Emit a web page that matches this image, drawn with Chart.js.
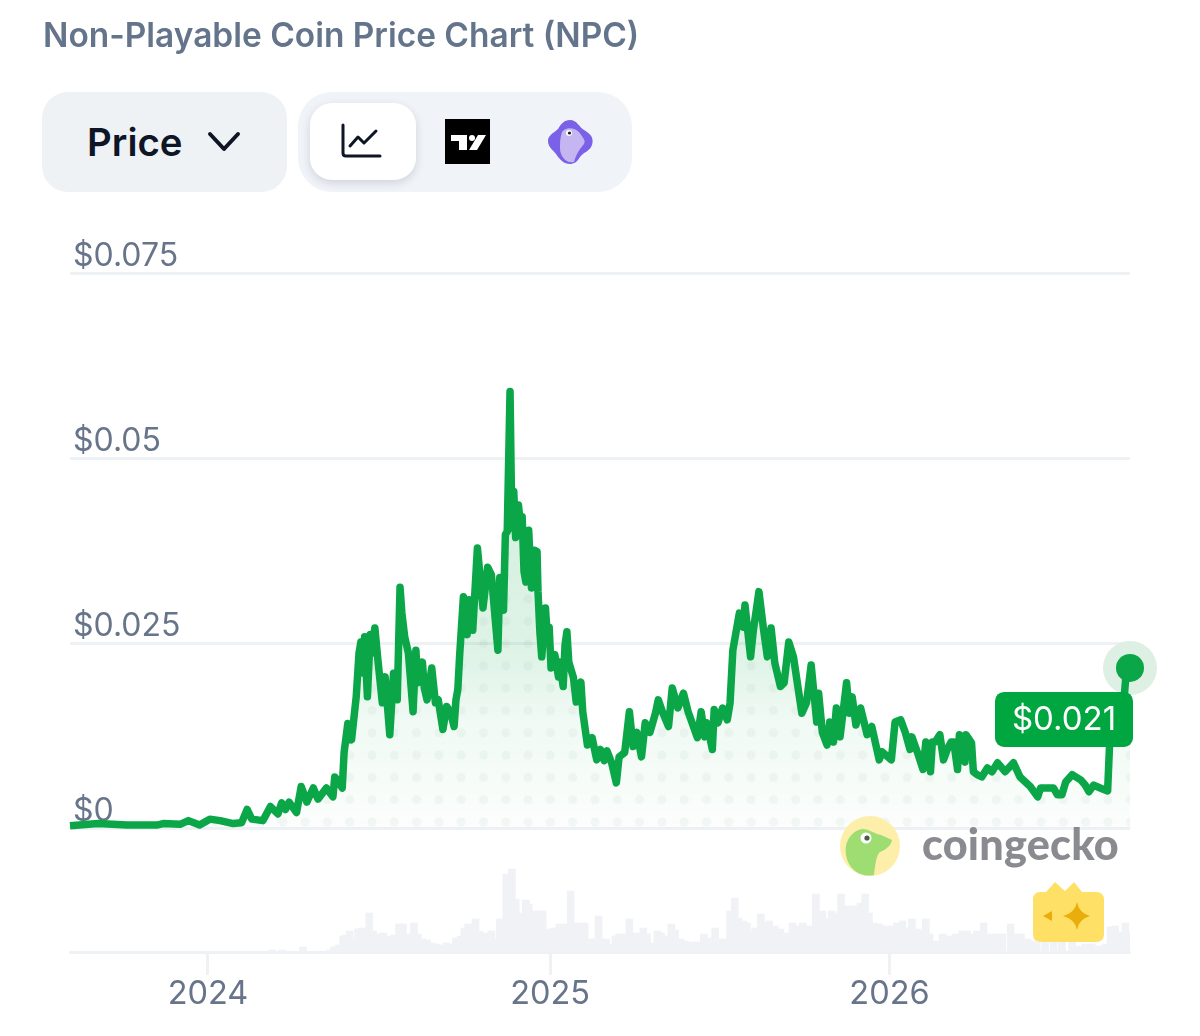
<!DOCTYPE html>
<html>
<head>
<meta charset="utf-8">
<title>Non-Playable Coin Price Chart (NPC)</title>
<script src="https://cdn.jsdelivr.net/npm/chart.js@4/dist/chart.umd.min.js"></script>
<style>
  html, body { margin: 0; padding: 0; background: #fff; }
  body { width: 1200px; height: 1036px; position: relative; overflow: hidden; font-family: Inter, sans-serif; }
  #myChart { position: absolute; left: 0; top: 0; }
  .abs { position: absolute; }
  #title { left: 43px; top: 14px; font-size: 33.45px; line-height: 42px; font-weight: 600; color: #64748b; white-space: nowrap; }
  #priceBtn { left: 42px; top: 92px; width: 245px; height: 100px; border-radius: 26px; background: #eff2f5; }
  #priceTxt { left: 87px; top: 118px; font-size: 38.4px; line-height: 48px; font-weight: 600; color: #0d1526; }
  #tabs { left: 298px; top: 92px; width: 334px; height: 100px; border-radius: 34px; background: #f0f3f8; }
  #tabOn { left: 310px; top: 103px; width: 106px; height: 77px; border-radius: 22px; background: #fff; box-shadow: 0 3px 9px rgba(40,50,70,.16); }
  #brand { left: 922px; top: 818px; font-family: Lato, sans-serif; font-size: 43.2px; line-height: 50px; font-weight: 900; color: #8a8b90; letter-spacing: .2px; }
</style>
</head>
<body>
<canvas id="myChart" width="1200" height="1036"></canvas>

<div id="title" class="abs">Non-Playable Coin Price Chart (NPC)</div>
<div id="priceBtn" class="abs"></div>
<div id="priceTxt" class="abs">Price</div>
<svg class="abs" style="left:206px;top:130px" width="36" height="24" viewBox="0 0 36 24"><path d="M4 4 L18 19 L32 4" fill="none" stroke="#0d1526" stroke-width="4" stroke-linecap="round" stroke-linejoin="round"/></svg>
<div id="tabs" class="abs"></div>
<div id="tabOn" class="abs"></div>
<svg class="abs" style="left:340px;top:122px" width="44" height="38" viewBox="0 0 44 38"><path d="M3 3 V31 Q3 34 6 34 H40" fill="none" stroke="#0d1526" stroke-width="3" stroke-linecap="round"/><path d="M10 24 L18 15 L24 21 L36 9" fill="none" stroke="#0d1526" stroke-width="3" stroke-linecap="round" stroke-linejoin="round"/></svg>
<svg class="abs" style="left:445px;top:119px" width="45" height="45" viewBox="0 0 45 45"><rect width="45" height="45" fill="#000"/><path d="M6 16 H22 V31 H14 V22 H6 Z" fill="#fff"/><circle cx="27" cy="19" r="3" fill="#fff"/><path d="M33 16 H41 L32 31 H24 Z" fill="#fff"/></svg>
<svg class="abs" style="left:546px;top:118px" width="48" height="48" viewBox="0 0 48 48"><path d="M24 2 C31 2 33 9 38 12 C45 16 48 20 46 27 C44 33 38 34 34 39 C31 44 28 46 24 46 C18 46 14 42 10 36 C7 32 2 29 2 23 C2 17 8 15 12 11 C15 6 18 2 24 2 Z" fill="#7b61e8"/><path d="M16 14 C20 8 29 10 33 14 C37 20 40 22 38 26 C34 31 31 34 28 44 C20 46 14 38 14 30 C14 24 14 20 16 14 Z" fill="#c5b6f2"/><circle cx="23" cy="15" r="3" fill="#fff"/><circle cx="23.5" cy="15" r="1.6" fill="#1b1b2f"/></svg>

<svg class="abs" style="left:839px;top:815px" width="62" height="62" viewBox="0 0 62 62"><circle cx="31" cy="31" r="30" fill="#fdeeaa"/><path d="M12 52 C6 44 5 32 9 25 C12 19 18 14 24 14 C30 14 36 19 42 20 L53 25 C52 31 46 35 41 37 C37 40 36 52 35 60 C26 62 18 59 12 52 Z" fill="#9edd72"/><circle cx="27" cy="23" r="5.5" fill="#fff"/><circle cx="28" cy="23" r="2.6" fill="#4d5a4a"/></svg>
<div id="brand" class="abs">coingecko</div>
<svg class="abs" style="left:1032px;top:882px" width="73" height="62" viewBox="0 0 73 62"><path d="M8 10 H14 L23 0 L33 9 L42 0 L50 10 H64 Q72 10 72 18 V52 Q72 60 64 60 H9 Q1 60 1 52 V18 Q1 10 8 10 Z" fill="#ffe066"/><path d="M45 20 Q47 31 58 34 Q47 37 45 48 Q43 37 31 34 Q43 31 45 20 Z" fill="#e9ad0c"/><path d="M11 34 L20 29 V39 Z" fill="#e9ad0c"/></svg>

<script>
const tickDays = [0, 367, 731];
const tickLabels = ["2024", "2025", "2026"];
const priceTicks = [0, 0.025, 0.05, 0.075];
const priceTickLabels = ["$0", "$0.025", "$0.05", "$0.075"];
const lastPriceLabel = "$0.021";

const priceDays = [
  -148, -118, -87, -55, -48, -30, -21, -9, 2, 13, 27, 36, 42, 47, 59, 67, 75, 79, 83, 87,
  95, 100, 106, 113, 118, 127, 134, 136, 144, 146, 150, 154, 159, 162, 164, 167, 168, 171, 174, 176,
  179, 182, 187, 190, 195, 199, 203, 206, 208, 211, 215, 220, 223, 225, 230, 232, 235, 240, 244, 247,
  252, 256, 260, 264, 266, 268, 270, 274, 278, 280, 284, 289, 295, 300, 304, 311, 313, 317, 319, 321,
  324, 326, 328, 330, 333, 336, 337, 339, 341, 344, 347, 350, 353, 354, 356, 358, 362, 364, 366, 368,
  372, 376, 377, 381, 383, 385, 387, 392, 395, 400, 402, 407, 412, 417, 421, 425, 428, 433, 438, 441,
  447, 452, 456, 460, 465, 469, 474, 480, 483, 488, 494, 498, 504, 510, 515, 525, 529, 533, 535, 541,
  543, 547, 552, 557, 560, 563, 570, 574, 576, 582, 585, 591, 596, 600, 604, 608, 614, 618, 623, 628,
  637, 642, 647, 653, 655, 659, 664, 667, 671, 674, 678, 685, 688, 691, 695, 700, 707, 712, 720, 723,
  733, 737, 743, 748, 753, 755, 761, 767, 770, 775, 777, 780, 785, 789, 793, 797, 800, 804, 806, 812,
  813, 819, 821, 825, 830, 836, 841, 847, 855, 864, 871, 882, 890, 893, 900, 907, 911, 916, 920, 927,
  936, 941, 945, 950, 957, 965, 967, 970, 983, 985, 989
];
const priceValues = [
  .0004, .0007, .0005, .0005, .0007, .0006, .0011, .0005, .0013, .0011, .0007, .0008, .0026, .0013, .0011, .0030, .0020, .0035, .0026, .0036,
  .0022, .0057, .0036, .0055, .0040, .0055, .0043, .0070, .0055, .0103, .0142, .0120, .0178, .0237, .0252, .0210, .0259, .0178, .0262, .0237,
  .0271, .0231, .0170, .0205, .0127, .0210, .0174, .0326, .0291, .0259, .0237, .0158, .0241, .0197, .0225, .0190, .0174, .0217, .0170, .0174,
  .0134, .0165, .0158, .0138, .0174, .0188, .0235, .0313, .0262, .0309, .0268, .0379, .0298, .0353, .0343, .0241, .0339, .0295, .0397, .0401,
  .0590, .0406, .0455, .0393, .0437, .0401, .0421, .0347, .0333, .0403, .0325, .0376, .0374, .0320, .0266, .0232, .0298, .0258, .0272, .0217,
  .0235, .0205, .0225, .0192, .0248, .0266, .0225, .0204, .0171, .0198, .0158, .0113, .0123, .0093, .0107, .0092, .0105, .0089, .0062, .0097,
  .0103, .0158, .0111, .0130, .0097, .0143, .0130, .0156, .0174, .0156, .0138, .0190, .0163, .0183, .0158, .0123, .0158, .0124, .0143, .0107,
  .0161, .0143, .0163, .0147, .0170, .0241, .0291, .0272, .0302, .0232, .0268, .0320, .0268, .0232, .0271, .0224, .0192, .0197, .0252, .0232,
  .0156, .0170, .0221, .0144, .0183, .0130, .0113, .0144, .0117, .0163, .0124, .0197, .0156, .0178, .0140, .0163, .0127, .0138, .0093, .0104,
  .0093, .0144, .0147, .0130, .0107, .0124, .0103, .0080, .0117, .0077, .0117, .0117, .0127, .0093, .0107, .0117, .0117, .0080, .0127, .0090,
  .0127, .0116, .0077, .0073, .0070, .0082, .0077, .0089, .0077, .0089, .0070, .0057, .0043, .0055, .0055, .0055, .0046, .0046, .0063, .0073,
  .0066, .0059, .0050, .0059, .0055, .0051, .0111, .0154, .0181, .0212, .0217
];

const volumeDays = [
  69, 80, 102, 131, 135, 140, 145, 148, 152, 157, 161, 165, 170, 173, 177, 181, 185, 188, 192, 196,
  200, 205, 209, 213, 217, 221, 225, 230, 235, 240, 245, 251, 256, 262, 266, 271, 275, 279, 283, 287,
  291, 296, 300, 304, 309, 313, 318, 320, 323, 326, 330, 333, 337, 341, 344, 348, 352, 356, 359, 364,
  368, 372, 377, 381, 385, 389, 392, 396, 400, 404, 409, 414, 419, 423, 427, 432, 437, 441, 446, 452,
  456, 460, 464, 467, 471, 476, 482, 486, 490, 497, 501, 507, 512, 519, 526, 532, 539, 544, 549, 555,
  560, 565, 569, 574, 578, 583, 587, 593, 597, 602, 608, 614, 621, 627, 632, 638, 644, 652, 655, 659,
  664, 669, 675, 679, 684, 688, 694, 700, 705, 709, 714, 720, 725, 732, 739, 745, 750, 755, 761, 766,
  770, 774, 780, 788, 795, 802, 809, 814, 820, 825, 832, 838, 845, 852, 861, 866, 872, 879, 884, 889,
  898, 907, 916, 927, 934, 941, 948, 956, 963, 968, 973, 979, 984, 989
];
const volumeValues = [
  2, 2, 5, 2, 5, 7, 16, 17, 21, 13, 23, 24, 14, 39, 21, 18, 13, 19, 14, 16,
  17, 28, 28, 11, 18, 29, 18, 13, 12, 9, 8, 7, 9, 8, 14, 16, 24, 28, 14, 33,
  21, 19, 17, 21, 13, 33, 16, 78, 61, 83, 53, 39, 18, 52, 48, 41, 28, 41, 41, 21,
  23, 24, 28, 13, 28, 61, 13, 29, 21, 29, 13, 13, 36, 13, 13, 8, 16, 18, 18, 33,
  18, 19, 18, 24, 18, 9, 21, 19, 16, 28, 22, 13, 11, 10, 10, 18, 14, 24, 13, 13,
  41, 54, 34, 31, 29, 21, 24, 38, 29, 31, 26, 23, 19, 29, 26, 29, 26, 58, 26, 41,
  33, 41, 39, 58, 46, 46, 46, 49, 58, 39, 29, 28, 26, 26, 29, 31, 24, 33, 23, 21,
  33, 18, 11, 18, 16, 18, 21, 21, 18, 21, 29, 18, 18, 18, 28, 18, 18, 13, 11, 10,
  10, 10, 10, 10, 6, 8, 8, 6, 8, 25, 26, 20, 29, 20
];

const lineColor = "#0aa648";
const gridColor = "#eff2f5";
const tickTextColor = "#677489";

const canvas = document.getElementById("myChart");
const ctx = canvas.getContext("2d");

// area fill, strongest under the peaks and almost gone at the zero line
var areaFill = ctx.createLinearGradient(0, 520, 0, 829);
areaFill.addColorStop(0, "rgba(10,166,72,0.17)");
areaFill.addColorStop(0.45, "rgba(10,166,72,0.13)");
areaFill.addColorStop(0.65, "rgba(10,166,72,0.06)");
areaFill.addColorStop(1, "rgba(10,166,72,0.015)");

// dot texture of the area, one tile per dot
var tile = document.createElement("canvas");
tile.width = 22;
tile.height = 22;
var tileCtx = tile.getContext("2d");
tileCtx.fillStyle = "rgba(60,120,90,0.05)";
tileCtx.beginPath();
tileCtx.arc(11, 11, 4.5, 0, Math.PI * 2);
tileCtx.fill();
var dotFill = ctx.createPattern(tile, "repeat");
dotFill.setTransform(new DOMMatrix().translate(4, 8).scale(22.3 / 22, 22.3 / 22));

const pricePoints = priceDays.map((d, i) => ({ x: d, y: priceValues[i] }));
const volumePoints = volumeDays.map((d, i) => ({ x: d, y: volumeValues[i] }));
const lastPoint = pricePoints[pricePoints.length - 1];

const priceTag = {
  id: "priceTag",
  afterDatasetsDraw(chart) {
    var c = chart.ctx;
    var px = chart.scales.x.getPixelForValue(lastPoint.x);
    var py = chart.scales.y.getPixelForValue(lastPoint.y);
    var w = 138, h = 55;
    var left = px + 3 - w;
    var top = py + 24;
    c.save();
    c.fillStyle = "#00a63f";
    c.beginPath();
    c.roundRect(left, top, w, h, 9);
    c.fill();
    c.fillStyle = "#fff";
    c.font = "400 33px Inter";
    c.textAlign = "center";
    c.textBaseline = "middle";
    c.fillText(lastPriceLabel, left + w / 2, top + h / 2 + 1);
    c.restore();
  }
};

new Chart(ctx, {
  type: "line",
  data: {
    datasets: [
      { type: "bar", data: volumePoints, yAxisID: "yVol", order: 5, backgroundColor: "#f0f2f5", borderWidth: 0, barThickness: 7 },
      { data: pricePoints, order: 4, fill: "origin", backgroundColor: dotFill, borderWidth: 0, pointRadius: 0 },
      { data: pricePoints, order: 3, fill: "origin", backgroundColor: areaFill, borderWidth: 0, pointRadius: 0 },
      { data: [lastPoint], order: 2, showLine: false, pointRadius: 27, pointBackgroundColor: "#deefe4", pointBorderWidth: 0, clip: false },
      { data: [lastPoint], order: 1, showLine: false, pointRadius: 14, pointBackgroundColor: lineColor, pointBorderWidth: 0, clip: false },
      { data: pricePoints, order: 1, borderColor: lineColor, borderWidth: 7.5, tension: 0, pointRadius: 0, borderJoinStyle: "round", borderCapStyle: "butt", clip: false }
    ]
  },
  options: {
    responsive: false,
    animation: false,
    events: [],
    layout: { padding: { left: 70, right: 70, top: 273, bottom: 0 } },
    plugins: { legend: { display: false }, tooltip: { enabled: false } },
    scales: {
      x: {
        type: "linear",
        min: -148,
        max: 989,
        offset: false,
        border: { display: true, color: gridColor, width: 3 },
        grid: { offset: false, drawOnChartArea: false, drawTicks: true, tickLength: 23, tickColor: gridColor, tickWidth: 3 },
        ticks: {
          autoSkip: false,
          maxRotation: 0,
          padding: 0,
          color: tickTextColor,
          font: { family: "Inter", size: 32.5 },
          callback: v => tickLabels[tickDays.indexOf(v)]
        },
        afterBuildTicks: s => { s.ticks = tickDays.map(v => ({ value: v })); },
        afterFit: s => { s.height = 84; }
      },
      y: {
        position: "left",
        min: -0.01663,
        max: 0.075,
        border: { display: false },
        grid: { color: gridColor, lineWidth: 3, drawTicks: false },
        ticks: {
          mirror: true,
          padding: 3,
          labelOffset: -17,
          color: tickTextColor,
          font: { family: "Inter", size: 32 },
          callback: v => priceTickLabels[priceTicks.indexOf(v)]
        },
        afterBuildTicks: s => { s.ticks = priceTicks.map(v => ({ value: v })); },
        afterFit: s => { s.width = 0; }
      },
      yVol: { display: false, position: "right", min: 0, max: 679 }
    }
  },
  plugins: [priceTag]
});
</script>
</body>
</html>
